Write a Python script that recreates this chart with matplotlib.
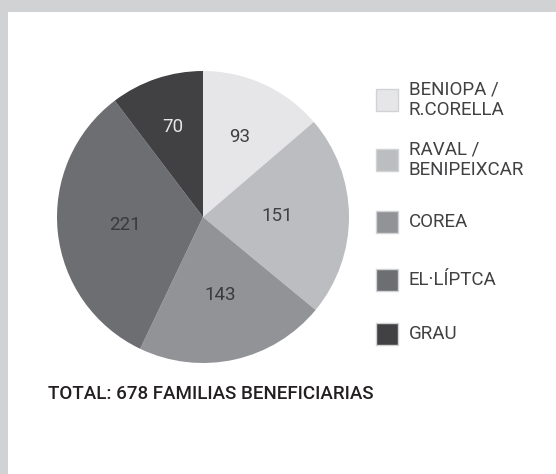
import numpy as np
import matplotlib
matplotlib.use("Agg")
import matplotlib.pyplot as plt
from matplotlib.patches import Rectangle

plt.rcParams["font.family"] = ["Roboto", "DejaVu Sans"]

# data
labels = ["BENIOPA /\nR.CORELLA", "RAVAL /\nBENIPEIXCAR", "COREA", "EL·LÍPTCA", "GRAU"]
values = [93, 151, 143, 221, 70]
colors = ["#e6e6e8", "#bcbdc0", "#929396", "#6d6e71", "#414042"]
text_colors = ["#414042", "#414042", "#3a3a3c", "#3a3a3c", "#e6e6e8"]
label_radius = [0.60, 0.51, 0.55, 0.54, 0.65]
total_text = "TOTAL: 678 FAMILIAS BENEFICIARIAS"

W, H = 556, 474
fig = plt.figure(figsize=(W / 100, H / 100), dpi=100)
fig.patch.set_facecolor("white")


def fx(px):
    return px / W


def fy(py):
    return 1 - py / H


# gray frame on top and left
border = "#d1d2d4"
fig.patches.append(Rectangle((0, fy(12)), 1, 12 / H, transform=fig.transFigure,
                             facecolor=border, edgecolor="none"))
fig.patches.append(Rectangle((0, 0), 8 / W, 1, transform=fig.transFigure,
                             facecolor=border, edgecolor="none"))

# pie
cx, cy, r = 203, 217, 146
ax = fig.add_axes([fx(cx - r), fy(cy + r), 2 * r / W, 2 * r / H])
wedges, _ = ax.pie(values, colors=colors, startangle=90, counterclock=False,
                   wedgeprops=dict(linewidth=0))
ax.set_xlim(-1, 1)
ax.set_ylim(-1, 1)
ax.set_aspect("auto")
ax.axis("off")

for w, v, tc, lr in zip(wedges, values, text_colors, label_radius):
    ang = np.deg2rad((w.theta1 + w.theta2) / 2)
    ax.text(lr * np.cos(ang), lr * np.sin(ang), str(v), ha="center", va="center",
            fontsize=13.5, color=tc)

# legend
box_y = [100, 160, 222, 280, 334]
for lab, col, by in zip(labels, colors, box_y):
    fig.patches.append(Rectangle((fx(376), fy(by + 11)), 22 / W, 22 / H,
                                 transform=fig.transFigure, facecolor=col,
                                 edgecolor="#d1d2d4", linewidth=1))
    fig.text(fx(409), fy(by), lab, ha="left", va="center", fontsize=13.5,
             color="#414042", linespacing=1.15)

fig.text(fx(48), fy(399), total_text, ha="left", va="baseline", fontsize=13.5,
         color="#231f20", fontweight="medium")

fig.savefig("out.png", dpi=100, facecolor="white")
